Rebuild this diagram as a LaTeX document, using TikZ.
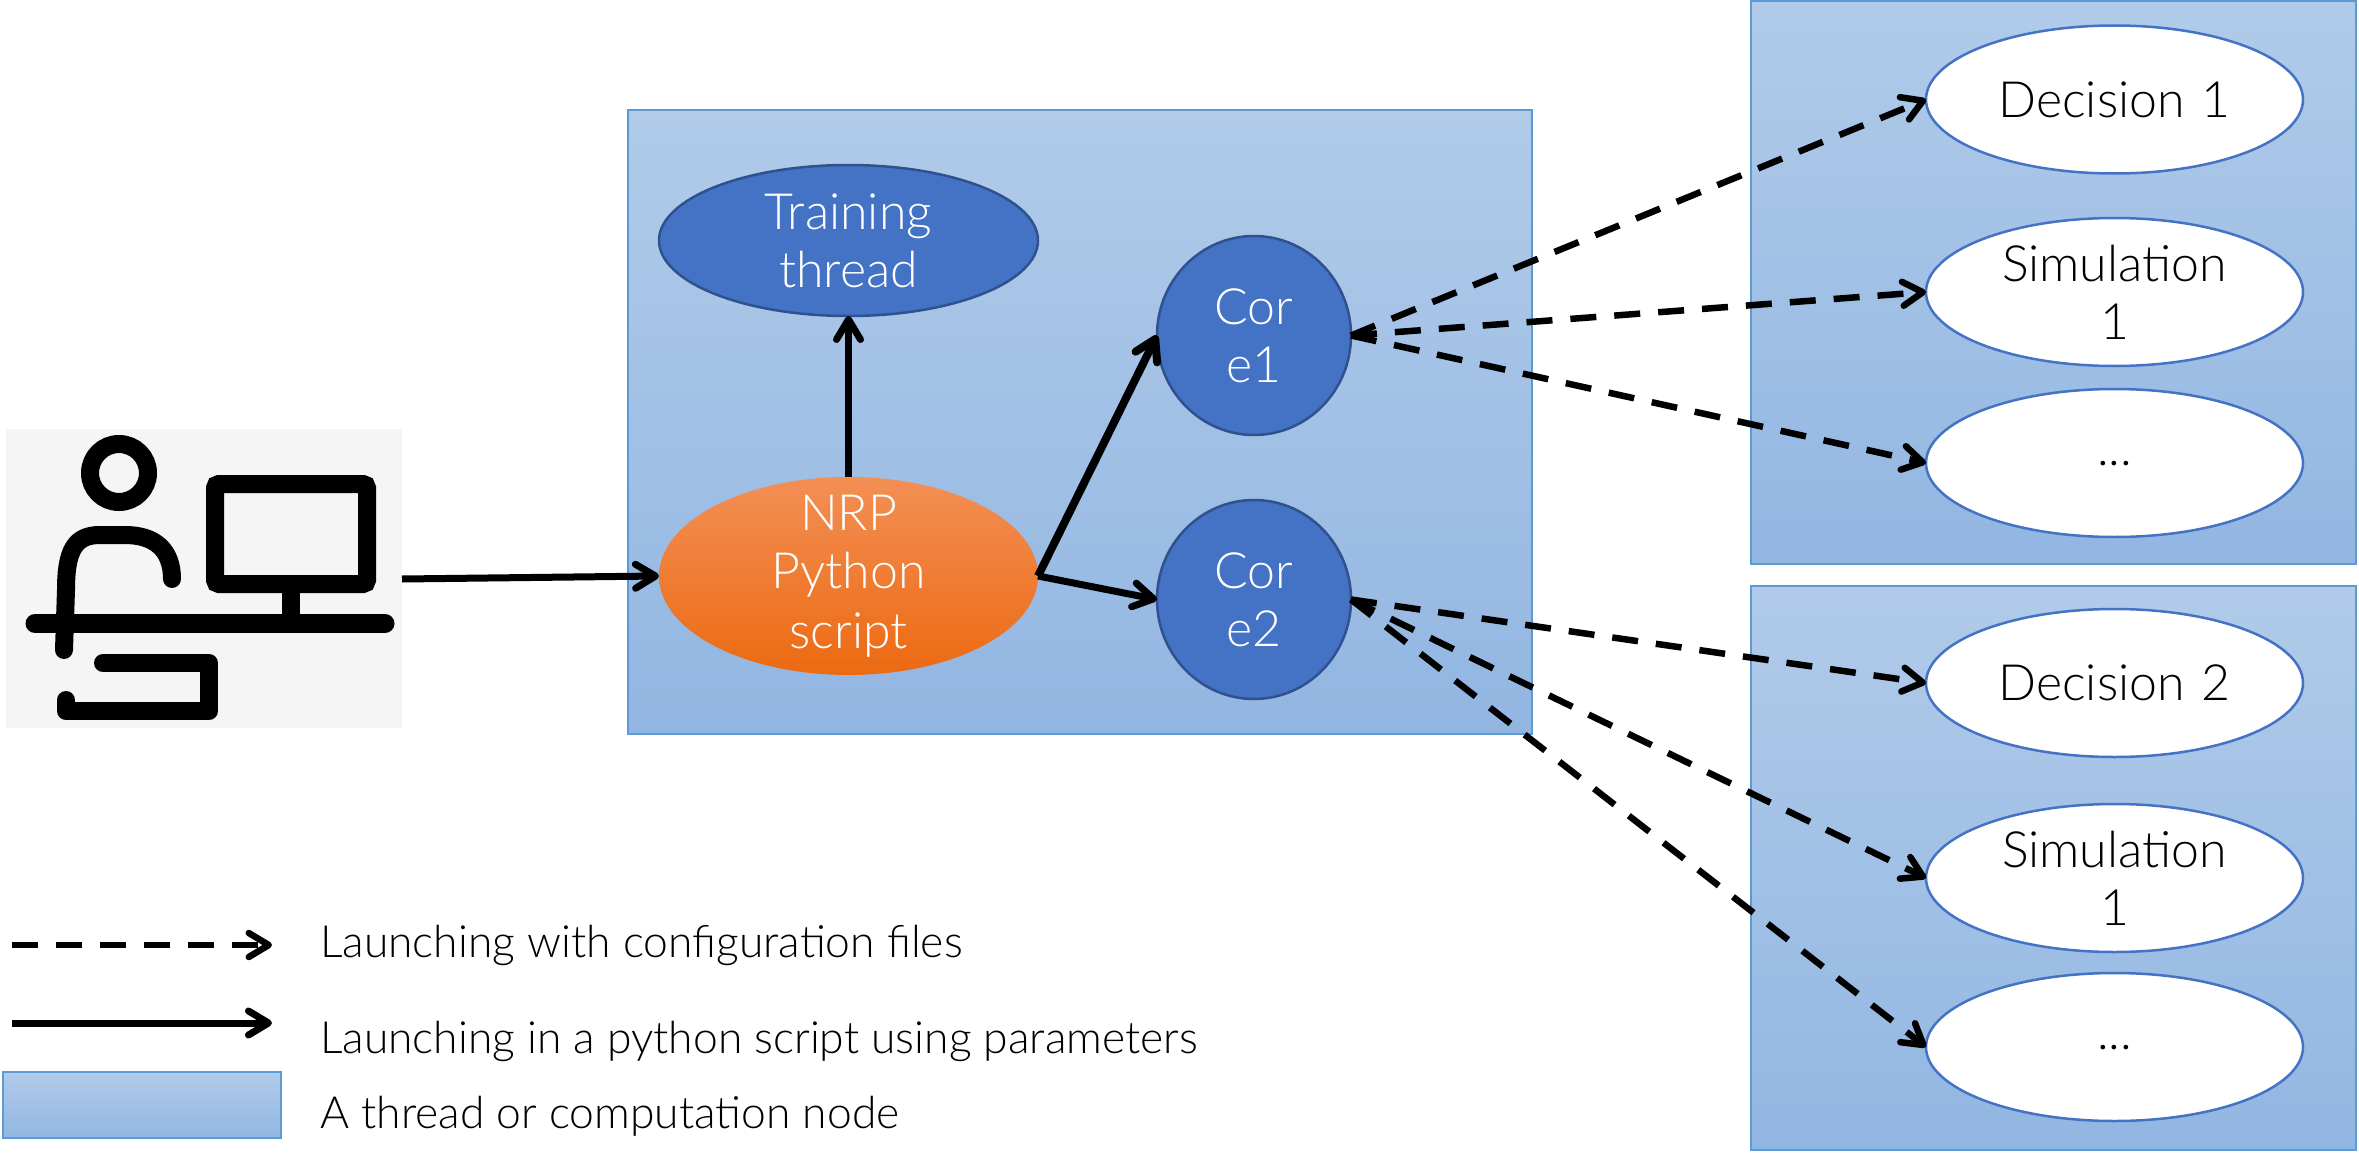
\documentclass[tikz,border=0pt]{standalone}
\usepackage{fontspec}
\setmainfont{Lato Light}
\usetikzlibrary{arrows.meta,shapes.geometric}
\definecolor{pTop}{HTML}{B1CBE9}
\definecolor{pBot}{HTML}{92B6E2}
\definecolor{pEdge}{HTML}{5B9BD5}
\definecolor{bFill}{HTML}{4472C4}
\definecolor{bEdge}{HTML}{2F528F}
\definecolor{oTop}{HTML}{F38F55}
\definecolor{oBot}{HTML}{EC6A12}
\newcommand{\tightlines}{\lineskiplimit -100pt\relax\vspace*{-2pt}}
\tikzset{
  x=1pt,y=-1pt,
  panel/.style={draw=pEdge,line width=1.5pt,top color=pTop,bottom color=pBot,minimum width=#1,inner sep=0pt,outer sep=0pt},
  txt/.style={font=\fontsize{50}{60}\selectfont,align=center,inner xsep=0pt,inner ysep=-30pt,execute at begin node={\tightlines}},
  legtxt/.style={font=\fontsize{44.4}{54}\selectfont,inner sep=0pt,anchor=west},
  whitee/.style={ellipse,draw=bFill,line width=2.5pt,fill=white,minimum width=377pt,minimum height=148pt,outer sep=0pt,txt,text width=240pt},
  bluee/.style={ellipse,draw=bEdge,line width=2.5pt,fill=bFill,text=white,outer sep=0pt,txt,text width=#1},
  solidarrow/.style={line width=7pt,-{Straight Barb[length=20pt,width=24pt,line width=7pt,round]}},
  thickarrow/.style={line width=8pt,-{Straight Barb[length=20pt,width=24pt,line width=8pt,round]}},
  dasharrow/.style={line width=6.5pt,dash pattern=on 26pt off 18pt,-{Straight Barb[length=20pt,width=24pt,line width=6.5pt,round]}},
  icon/.style={line width=18pt,line cap=round,line join=round}
}
\begin{document}
\begin{tikzpicture}
\useasboundingbox (0,0) rectangle (2359,1153);
\fill[white] (0,0) rectangle (2359,1153);
\node[panel=904pt,minimum height=624pt,anchor=north west] (main) at (628,110) {};
\node[panel=605pt,minimum height=563pt,anchor=north west] (top) at (1751,1) {};
\node[panel=605pt,minimum height=564pt,anchor=north west] (bot) at (1751,586) {};
\node[panel=278pt,minimum height=66pt,anchor=north west] (leg) at (3,1072) {};
% icon
\fill[black!4] (6,429) rectangle (402,728);
\coordinate (iconr) at (402,579);
\draw[line width=18pt] (119,473) circle (29);
\draw[line width=18pt,rounded corners=4pt] (215,484) rectangle (367,584);
\fill (282,590) rectangle (300,620);
\draw[line width=19pt,line cap=round] (35,623.5) -- (385,623.5);
\draw[icon] (64,650) -- (66,590) .. controls (66,550) and (75,535) .. (100,535) -- (125,535) .. controls (155,535) and (172,550) .. (172,579);
\draw[icon] (103,663) -- (209,663) -- (209,711) -- (66,711) -- (66,700);
% nodes
\node[bluee=200pt,minimum width=379pt,minimum height=151pt] (train) at (848.5,240.5) {Training\\thread};
\node[ellipse,outer sep=0pt,minimum width=379pt,minimum height=198pt,top color=oTop,bottom color=oBot,txt,text=white,text width=220pt] (nrp) at (848.5,576) {NRP\\Python\\script};
\node[bluee=110pt,minimum width=194pt,minimum height=199pt] (c1) at (1254,335.5) {Cor\\e1};
\node[bluee=110pt,minimum width=194pt,minimum height=199pt] (c2) at (1254,599.5) {Cor\\e2};
\node[whitee] (d1) at (2114.5,99.5) {Decision 1};
\node[whitee] (s1) at (2114.5,292) {Simulation\\1};
\node[whitee] (e1) at (2114.5,463) {...};
\node[whitee] (d2) at (2114.5,683) {Decision 2};
\node[whitee] (s2) at (2114.5,878) {Simulation\\1};
\node[whitee] (e2) at (2114.5,1047) {...};
% connectors
\draw[solidarrow] (iconr) -- (nrp.west);
\draw[solidarrow] (nrp.north) -- (train.south);
\draw[thickarrow] (nrp.east) -- (c1.west);
\draw[solidarrow] (nrp.east) -- (c2.west);
\foreach \t in {d1,s1,e1}{\draw[dasharrow] (c1.east) -- (\t.west);}
\foreach \t in {d2,s2,e2}{\draw[dasharrow] (c2.east) -- (\t.west);}
% legend
\coordinate (la) at (12,945); \coordinate (lb) at (272,945);
\coordinate (lc) at (12,1023); \coordinate (ld) at (272,1023);
\draw[dasharrow] (la) -- (lb);
\draw[solidarrow] (lc) -- (ld);
\node[legtxt] (t1) at (320,945) {Launching with configuration files};
\node[legtxt] (t2) at (320,1041) {Launching in a python script using parameters};
\node[legtxt] (t3) at (320,1116) {A thread or computation node};
\end{tikzpicture}
\end{document}
